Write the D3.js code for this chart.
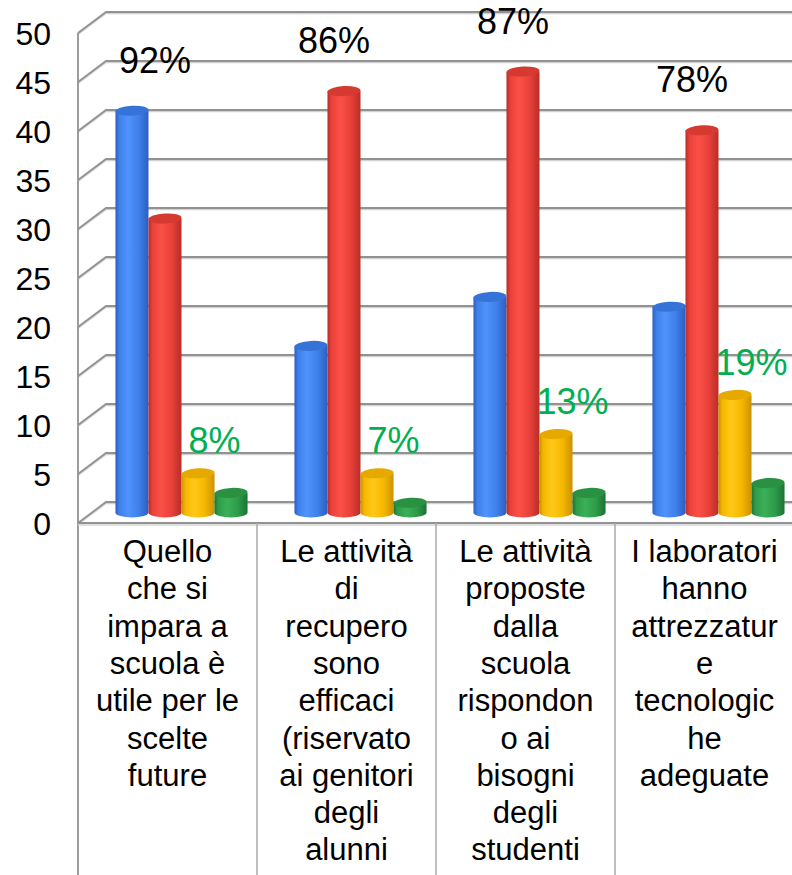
<!DOCTYPE html>
<html>
<head>
<meta charset="utf-8">
<script src="https://cdn.jsdelivr.net/npm/d3@7"></script>
<style>
  body { margin: 0; background: #fff; }
  svg { display: block; }
  text { font-family: "Liberation Sans", Arial, Helvetica, sans-serif; }
</style>
</head>
<body>
<svg id="chart" width="792" height="875"></svg>
<script>
// ---- data ----
const categories = ["q1", "q2", "q3", "q4"];
const categoryLines = [
  ["Quello", "che si", "impara a", "scuola è", "utile per le", "scelte", "future"],
  ["Le attività", "di", "recupero", "sono", "efficaci", "(riservato", "ai genitori", "degli", "alunni"],
  ["Le attività", "proposte", "dalla", "scuola", "rispondon", "o ai", "bisogni", "degli", "studenti"],
  ["I laboratori", "hanno", "attrezzatur", "e", "tecnologic", "he", "adeguate"]
];
const seriesKeys = ["blu", "rosso", "giallo", "verde"];
const blu    = [41, 17, 22, 21];
const rosso  = [30, 43, 45, 39];
const giallo = [4, 4, 8, 12];
const verde  = [2, 1, 2, 3];
const topLabels = ["92%", "86%", "87%", "78%"];
const lowLabels = ["8%", "7%", "13%", "19%"];
const yTicks = [0, 5, 10, 15, 20, 25, 30, 35, 40, 45, 50];

const seriesValues = { blu, rosso, giallo, verde };

// ---- layout ----
const W = 792, H = 875;
const left = 78, floorY = 523, topY = 33;
const depthX = 28, depthY = -21;            // offset from front plane to back wall
const midX = depthX / 2, midY = depthY / 2; // bars stand half way in depth

const svg = d3.select("#chart");
svg.append("rect").attr("width", W).attr("height", H).attr("fill", "#fff");

const y = d3.scaleLinear().domain([0, 50]).range([floorY, topY]);
const x = d3.scaleBand().domain(categories).range([left, left + 4 * 179]).padding(0);
const xs = d3.scaleBand().domain(seriesKeys).range([0, x.bandwidth()])
  .paddingInner(0).paddingOuter(0.71);

// ---- gradients for the cylinders ----
const palette = {
  blu:    { dark: "#2a5fc2", mid: "#3f80ea", light: "#4f93fc", top: "#3673d8" },
  rosso:  { dark: "#b92d26", mid: "#e8413a", light: "#fb5046", top: "#d6392f" },
  giallo: { dark: "#cc9200", mid: "#f5b800", light: "#ffc818", top: "#e6a900" },
  verde:  { dark: "#1b7434", mid: "#2e9c4a", light: "#3bb058", top: "#2a9143" }
};
const defs = svg.append("defs");
seriesKeys.forEach(k => {
  const g = defs.append("linearGradient").attr("id", "g-" + k)
    .attr("x1", "0%").attr("x2", "100%").attr("y1", "0%").attr("y2", "0%");
  [[0, "dark"], [0.12, "mid"], [0.38, "light"], [0.7, "mid"], [1, "dark"]]
    .forEach(([o, c]) => g.append("stop").attr("offset", o).attr("stop-color", palette[k][c]));
});

// ---- walls and gridlines ----
const grid = svg.append("g");
yTicks.forEach(t => {
  const yf = y(t), yb = y(t) + depthY;
  grid.append("path")
    .attr("d", `M${left},${yf}L${left + depthX},${yb}L${W + 40},${yb}`)
    .attr("fill", "none").attr("stroke", "#d2d2d2").attr("stroke-width", 1.5)
    .attr("transform", "translate(0,1.5)");
  grid.append("path")
    .attr("d", `M${left},${yf}L${left + depthX},${yb}L${W + 40},${yb}`)
    .attr("fill", "none").attr("stroke", "#929292").attr("stroke-width", 1.8);
});
// left wall front edge and the category table frame
grid.append("line").attr("x1", left).attr("x2", left).attr("y1", y(50)).attr("y2", H)
  .attr("stroke", "#929292").attr("stroke-width", 1.8);
grid.append("line").attr("x1", left).attr("x2", W + 10).attr("y1", floorY).attr("y2", floorY)
  .attr("stroke", "#929292").attr("stroke-width", 2);
grid.append("line").attr("x1", left).attr("x2", W + 10).attr("y1", floorY + 2).attr("y2", floorY + 2)
  .attr("stroke", "#d4d4d4").attr("stroke-width", 1.5);
categories.forEach((c, i) => {
  if (i === 0) return;
  grid.append("line").attr("x1", x(c)).attr("x2", x(c)).attr("y1", floorY).attr("y2", H)
    .attr("stroke", "#a8a8a8").attr("stroke-width", 1.5);
});

// ---- y axis labels ----
svg.append("g").selectAll("text").data(yTicks).join("text")
  .attr("x", 51).attr("y", d => y(d))
  .attr("dy", "0.36em").attr("text-anchor", "end")
  .attr("font-size", 32).attr("fill", "#000")
  .text(d => d);

// ---- cylinders ----
const ry = 5;
const bars = [];
categories.forEach((c, i) => {
  seriesKeys.forEach(k => {
    bars.push({ cat: c, key: k, value: seriesValues[k][i] });
  });
});
const barG = svg.append("g");
bars.forEach(b => {
  const x0 = x(b.cat) + xs(b.key) + midX;
  const w = xs.bandwidth();
  const cx = x0 + w / 2;
  const yb = y(0) + midY;
  const yt = y(b.value) + midY;
  const g = barG.append("g");
  // body with rounded bottom
  g.append("path")
    .attr("d", `M${x0},${yt}L${x0},${yb}A${w / 2},${ry} 0 0 0 ${x0 + w},${yb}L${x0 + w},${yt}Z`)
    .attr("fill", `url(#g-${b.key})`);
  // top cap
  g.append("ellipse")
    .attr("cx", cx).attr("cy", yt).attr("rx", w / 2).attr("ry", ry)
    .attr("transform", `rotate(-3,${cx},${yt})`)
    .attr("fill", palette[b.key].top);
});

// ---- percentage labels ----
const lab = svg.append("g");
categories.forEach((c, i) => {
  const maxV = d3.max(seriesKeys, k => seriesValues[k][i]);
  lab.append("text")
    .attr("x", x(c) + xs("rosso") + midX + xs.bandwidth() / 2 - 10)
    .attr("y", y(maxV) + midY - 38)
    .attr("text-anchor", "middle").attr("font-size", 36).attr("fill", "#000")
    .text(topLabels[i]);
  lab.append("text")
    .attr("x", x(c) + xs("verde") + midX)
    .attr("y", y(giallo[i]) + midY - 20)
    .attr("text-anchor", "middle").attr("font-size", 36).attr("fill", "#00b050")
    .text(lowLabels[i]);
});

// ---- category labels ----
const catG = svg.append("g");
categories.forEach((c, i) => {
  const t = catG.append("text")
    .attr("text-anchor", "middle").attr("font-size", 31).attr("fill", "#000");
  categoryLines[i].forEach((line, j) => {
    t.append("tspan").attr("x", x(c) + x.bandwidth() / 2).attr("y", 562 + j * 37.3).text(line);
  });
});
</script>
</body>
</html>
